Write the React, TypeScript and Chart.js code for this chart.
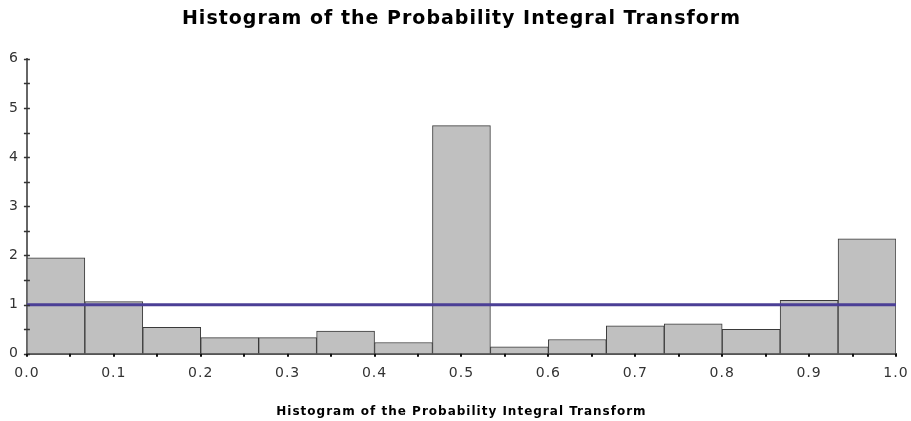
import React, { useEffect, useRef } from "react";
import { Chart, registerables } from "chart.js";

Chart.register(...registerables);

const TITLE = "Histogram of the Probability Integral Transform";
const X_TITLE = "Histogram of the Probability Integral Transform";
const BIN_EDGES = [0, 1 / 15, 2 / 15, 3 / 15, 4 / 15, 5 / 15, 6 / 15, 7 / 15, 8 / 15, 9 / 15, 10 / 15, 11 / 15, 12 / 15, 13 / 15, 14 / 15, 1];
const DENSITY = [1.95, 1.06, 0.54, 0.33, 0.33, 0.46, 0.23, 4.64, 0.14, 0.29, 0.57, 0.61, 0.5, 1.09, 2.34];
const UNIFORM_LINE = [
  { x: 0, y: 1 },
  { x: 1, y: 1 },
];
const X_MIN = 0;
const X_MAX = 1;
const X_STEP = 0.1;
const Y_MIN = 0;
const Y_MAX = 6;
const Y_STEP = 0.5;

const spacing = {
  id: "spacing",
  beforeLayout(chart: any) {
    chart.ctx.letterSpacing = "1px";
  },
  beforeDraw(chart: any) {
    chart.ctx.letterSpacing = "1px";
  },
};

const tickMarks = {
  id: "tickMarks",
  afterDraw(chart: any) {
    const ys = chart.scales.y;
    const xs = chart.scales.x;
    const ctx = chart.ctx;
    ctx.save();
    ctx.strokeStyle = "#333";
    ctx.lineWidth = 1.5;
    ys.ticks.forEach((t: any) => {
      const y = Math.round(ys.getPixelForValue(t.value)) + 0.5;
      ctx.beginPath();
      ctx.moveTo(ys.right - 3, y);
      ctx.lineTo(ys.right + 3, y);
      ctx.stroke();
    });
    ctx.strokeStyle = "#111";
    ctx.lineWidth = 2;
    const vals: number[] = [];
    xs.ticks.forEach((t: any, i: number) => {
      vals.push(t.value);
      if (i < xs.ticks.length - 1) vals.push((t.value + xs.ticks[i + 1].value) / 2);
    });
    vals.forEach((v) => {
      const x = Math.round(xs.getPixelForValue(v));
      ctx.beginPath();
      ctx.moveTo(x, xs.top);
      ctx.lineTo(x, xs.top + 3);
      ctx.stroke();
    });
    ctx.restore();
  },
};

export default function App() {
  const ref = useRef<HTMLCanvasElement | null>(null);
  useEffect(() => {
    document.body.style.margin = "0";
    const canvas = ref.current;
    if (!canvas) return;
    const barData = DENSITY.map((v, i) => ({ x: (BIN_EDGES[i] + BIN_EDGES[i + 1]) / 2, y: v }));
    const chart = new Chart(canvas, {
      type: "bar",
      data: {
        datasets: [
          {
            type: "line",
            data: UNIFORM_LINE,
            borderColor: "#4b3f96",
            borderWidth: 3,
            pointRadius: 0,
            order: 0,
          } as any,
          {
            type: "bar",
            data: barData,
            backgroundColor: "#c0c0c0",
            borderColor: "#3a3a3a",
            borderWidth: 1,
            barPercentage: 1,
            categoryPercentage: 1,
            order: 1,
          } as any,
        ],
      },
      plugins: [spacing, tickMarks],
      options: {
        responsive: false,
        animation: false,
        layout: { autoPadding: false, padding: { left: 4, right: 15, top: 0, bottom: 2 } },
        plugins: {
          legend: { display: false },
          tooltip: { enabled: false },
          title: {
            display: true,
            fullSize: false,
            text: TITLE,
            color: "#000",
            font: { family: "DejaVu Sans", size: 19, weight: "bold" },
            padding: { top: 8, bottom: 28 },
          },
        },
        scales: {
          x: {
            type: "linear",
            min: X_MIN,
            max: X_MAX,
            offset: false,
            afterFit: (scale: any) => {
              scale.paddingLeft = 0;
              scale.paddingRight = 0;
            },
            grid: { display: true, drawOnChartArea: false, drawTicks: true, tickLength: 4, color: "rgba(0,0,0,0)" },
            border: { display: true, color: "#555", width: 2 },
            ticks: {
              stepSize: X_STEP,
              autoSkip: false,
              maxRotation: 0,
              padding: 7,
              color: "#333",
              font: { family: "DejaVu Sans", size: 14 },
              callback: (v: any) => Number(v).toFixed(1),
            },
            title: {
              display: true,
              text: X_TITLE,
              color: "#000",
              font: { family: "DejaVu Sans", size: 12, weight: "bold" },
              padding: { top: 16, bottom: 0 },
            },
          },
          y: {
            min: Y_MIN,
            max: Y_MAX,
            grid: { display: true, drawOnChartArea: false, drawTicks: true, tickLength: 3, color: "rgba(0,0,0,0)" },
            border: { display: true, color: "#666", width: 2 },
            ticks: {
              stepSize: Y_STEP,
              autoSkip: false,
              padding: 5,
              color: "#333",
              font: { family: "DejaVu Sans", size: 14 },
              callback: (v: any) => (Number(v) % 1 === 0 ? String(v) : ""),
            },
          },
        },
      },
    } as any);
    return () => chart.destroy();
  }, []);
  return <canvas ref={ref} width={911} height={421} style={{ display: "block" }} />;
}
